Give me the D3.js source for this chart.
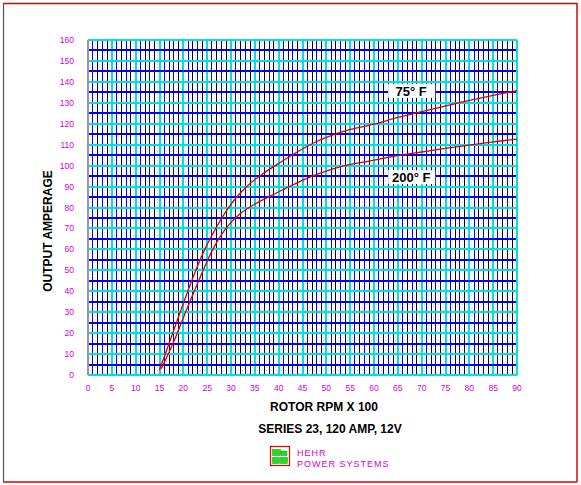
<!DOCTYPE html>
<html><head><meta charset="utf-8">
<script src="https://cdn.jsdelivr.net/npm/d3@7"></script>
<style>
html,body{margin:0;padding:0;background:#fff;}
svg{display:block;font-family:Arial,"Liberation Sans",sans-serif;}
</style></head>
<body>
<script>
// ---- data ----
const rpm75  = [15, 17, 19.5, 22, 24.5, 27, 29.1, 31.2, 34, 36.8, 40.3, 43.8, 47.3, 50, 54.3, 60, 65, 70, 75, 80, 85, 90];
const amp75  = [2.5, 15, 31, 46.5, 60, 70.8, 78.6, 85, 91.5, 96.3, 101.5, 106.4, 110.8, 113.5, 116.8, 119.8, 123, 125.8, 128.5, 131.2, 133.6, 135.8];
const rpm200 = [15.4, 18, 21, 23.5, 26.3, 29.1, 31.9, 34.7, 37.5, 41, 44.1, 47.3, 50, 54.3, 59.2, 65, 70, 75, 80, 85, 90];
const amp200 = [3, 16, 33, 46.5, 60.5, 70.5, 77, 81.2, 84.6, 88.6, 92, 95.2, 97.4, 100.2, 102.3, 104.8, 106.5, 108.2, 109.8, 111.3, 112.7];
const xTicks = [0,5,10,15,20,25,30,35,40,45,50,55,60,65,70,75,80,85,90];
const yTicks = [0,10,20,30,40,50,60,70,80,90,100,110,120,130,140,150,160];
const seriesNames = ["75° F", "200° F"];
const xTitle = "ROTOR RPM X 100";
const yTitle = "OUTPUT AMPERAGE";
const subTitle = "SERIES 23, 120 AMP, 12V";
const brand = ["HEHR", "POWER SYSTEMS"];

const W = 581, H = 485;
const svg = d3.select("body").append("svg").attr("width", W).attr("height", H);

// frame
svg.append("line").attr("x1",3).attr("x2",577).attr("y1",3.5).attr("y2",3.5).attr("stroke","#e00000").attr("stroke-width",1.5);
svg.append("line").attr("x1",577).attr("x2",577).attr("y1",3).attr("y2",482).attr("stroke","#e00000").attr("stroke-width",1.5);
svg.append("line").attr("x1",3).attr("x2",577).attr("y1",482).attr("y2",482).attr("stroke","#e00000").attr("stroke-width",1.5);
svg.append("line").attr("x1",3.5).attr("x2",3.5).attr("y1",3).attr("y2",482).attr("stroke","#555").attr("stroke-width",1.2);

const x = d3.scaleLinear().domain([0,90]).range([88,517]);
const y = d3.scaleLinear().domain([0,160]).range([375,40]);

const g = svg.append("g").attr("shape-rendering","crispEdges");
// faint minor lines (half units)
g.selectAll(".minor").data(d3.range(0.5, 90, 1)).join("line")
  .attr("x1", d=>x(d)).attr("x2", d=>x(d)).attr("y1", y(160)).attr("y2", y(0))
  .attr("stroke","#e4dce4").attr("stroke-width",1).attr("stroke-dasharray","1,2");

// vertical grid lines
const vUnits = d3.range(1, 90);
g.selectAll(".vl").data(vUnits).join("line")
  .attr("x1", d=>x(d)).attr("x2", d=>x(d)).attr("y1", y(160)).attr("y2", y(0))
  .attr("stroke", d => d%5===0 ? "#00e0e0" : (d%5===2 || d%5===4 ? "#000000" : "#0000ff"))
  .attr("stroke-width", d => d%5===0 ? 2 : 1);

// horizontal grid lines
const hUnits = d3.range(5, 160, 5);
g.selectAll(".hl").data(hUnits).join("line")
  .attr("x1", x(0)).attr("x2", x(90)).attr("y1", d=>y(d)).attr("y2", d=>y(d))
  .attr("stroke", d => d%10===0 ? "#00e0e0" : "#0000ee")
  .attr("stroke-width", 2);

// borders of plot
g.append("line").attr("x1",x(0)).attr("x2",x(90)).attr("y1",y(160)).attr("y2",y(160)).attr("stroke","#00e0e0").attr("stroke-width",2);
g.append("line").attr("x1",x(0)).attr("x2",x(90)).attr("y1",y(0)).attr("y2",y(0)).attr("stroke","#00e0e0").attr("stroke-width",2);
g.append("line").attr("x1",x(90)).attr("x2",x(90)).attr("y1",y(160)).attr("y2",y(0)).attr("stroke","#00e0e0").attr("stroke-width",2);
g.append("line").attr("x1",x(0)).attr("x2",x(0)).attr("y1",y(160)).attr("y2",y(0)).attr("stroke","#999").attr("stroke-width",2);

// curves
const line = d3.line().x(d=>x(d[0])).y(d=>y(d[1])).curve(d3.curveCatmullRom.alpha(0.5));
[[rpm75,amp75],[rpm200,amp200]].forEach(([xs,ys])=>{
  svg.append("path").attr("d", line(xs.map((v,i)=>[v,ys[i]])))
    .attr("fill","none").attr("stroke","#e00000").attr("stroke-width",1.3);
});

// series labels
const labs = [{t:seriesNames[0], cx:x(67.8), cy:y(135.7)},{t:seriesNames[1], cx:x(67.8), cy:y(94.5)}];
labs.forEach(l=>{
  svg.append("rect").attr("x", l.cx-23).attr("y", l.cy-7).attr("width",47).attr("height",14).attr("fill","#fff");
  svg.append("text").attr("x", l.cx).attr("y", l.cy+5).attr("text-anchor","middle")
    .attr("font-size",13).attr("font-weight","bold").attr("fill","#000").text(l.t);
});

// tick labels
svg.append("g").selectAll("text").data(yTicks).join("text")
  .attr("x", 74).attr("y", d=>y(d)+3).attr("text-anchor","end")
  .attr("font-size",8.5).attr("fill","#d000d0").text(d=>d);
svg.append("g").selectAll("text").data(xTicks).join("text")
  .attr("x", d=>x(d)).attr("y", 391).attr("text-anchor","middle")
  .attr("font-size",8.5).attr("fill","#d000d0").text(d=>d);

// titles
svg.append("text").attr("x",324).attr("y",411).attr("text-anchor","middle")
  .attr("font-size",12).attr("font-weight","bold").attr("fill","#000").text(xTitle);
svg.append("text").attr("x",330).attr("y",433).attr("text-anchor","middle")
  .attr("font-size",12).attr("font-weight","bold").attr("fill","#000").text(subTitle);
svg.append("text").attr("transform","translate(52,231) rotate(-90)").attr("text-anchor","middle")
  .attr("font-size",12).attr("font-weight","bold").attr("fill","#000").text(yTitle);

// logo
const lg = svg.append("g");
lg.append("rect").attr("x",270.5).attr("y",446.5).attr("width",19).attr("height",19).attr("fill","#fff").attr("stroke","#e00000").attr("stroke-width",1.2);
[[272.5,449.5,8,6],[281,451,6,4.5],[272.5,457.5,7,6],[280.5,457.5,7,6]].forEach(r=>{
  lg.append("rect").attr("x",r[0]).attr("y",r[1]).attr("width",r[2]).attr("height",r[3]).attr("fill","#22dd22").attr("stroke","#119911").attr("stroke-width",0.5);
});
lg.append("text").attr("x",297).attr("y",456).attr("font-size",9).attr("fill","#d000d0").attr("letter-spacing",1).text(brand[0]);
lg.append("text").attr("x",297).attr("y",467).attr("font-size",9).attr("fill","#d000d0").attr("letter-spacing",1).text(brand[1]);
</script>
</body></html>
